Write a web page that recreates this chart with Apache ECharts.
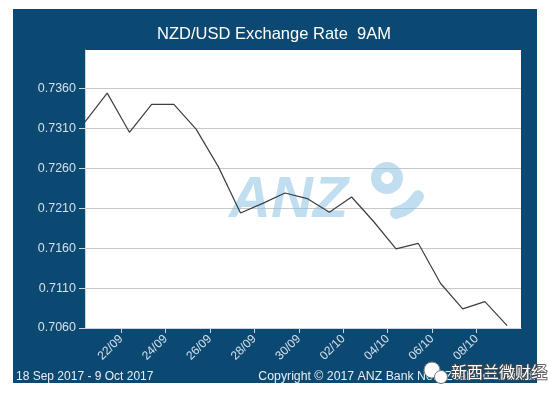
<!DOCTYPE html>
<html>
<head>
<meta charset="utf-8">
<script src="https://cdn.jsdelivr.net/npm/echarts@6/dist/echarts.min.js"></script>
<style>html,body{margin:0;padding:0;background:#fff;}#c{width:548px;height:397px;}</style>
</head>
<body>
<div id="c"></div>
<script>
// Daily 9AM fixings
var dates = ['2017-09-20','2017-09-21','2017-09-22','2017-09-23','2017-09-24','2017-09-25','2017-09-26',
  '2017-09-27','2017-09-28','2017-09-29','2017-09-30','2017-10-01','2017-10-02','2017-10-03',
  '2017-10-04','2017-10-05','2017-10-06','2017-10-07','2017-10-08','2017-10-09'];
var rates = [0.7318,0.7354,0.7305,0.7340,0.7340,0.7309,0.7262,
  0.7204,0.7216,0.7229,0.7222,0.7205,0.7224,0.7193,
  0.7159,0.7166,0.7116,0.7084,0.7093,0.7063];
var xTickDates = ['2017-09-22','2017-09-24','2017-09-26','2017-09-28','2017-09-30',
  '2017-10-02','2017-10-04','2017-10-06','2017-10-08'];
var yTicks = [0.7060,0.7110,0.7160,0.7210,0.7260,0.7310,0.7360];
var axisStart = '2017-09-20';
var axisEnd = '2017-10-10';
var fixHour = 9;

var DAY = 86400000;
function ts(s){ var p = s.split('-'); return Date.UTC(+p[0], +p[1]-1, +p[2]); }
function dayNum(s){ return (ts(s) - ts(axisStart)) / DAY; }
function pad(n){ return (n < 10 ? '0' : '') + n; }
var seriesData = dates.map(function(d, i){ return [dayNum(d) + fixHour/24, rates[i]]; });
var xTickVals = xTickDates.map(dayNum);

var chart = echarts.init(document.getElementById('c'), null, {renderer:'canvas'});
var font = 'Liberation Sans, Arial, sans-serif';
var wm = 'rgba(140,195,228,0.55)';
chart.setOption({
  backgroundColor: '#ffffff',
  animation: false,
  title: {
    text: 'NZD/USD Exchange Rate  9AM',
    left: 'center', top: 21,
    textStyle: {color:'#ffffff', fontSize: 16.5, fontWeight:'normal', fontFamily: font}
  },
  grid: {left: 85, right: 27, top: 50, bottom: 69, show: true, backgroundColor:'#ffffff', borderWidth: 0},
  xAxis: {
    type: 'value',
    min: fixHour/24,
    max: dayNum(axisEnd),
    axisLine: {show: true, onZero: false, lineStyle: {color:'#c9d6e0', width: 1}},
    axisTick: {show: true, length: 5, customValues: xTickVals, lineStyle: {color:'#c9d6e0'}},
    splitLine: {show: false},
    axisLabel: {
      customValues: xTickVals,
      rotate: 45, margin: 9,
      color: '#d3e0ea', fontSize: 12, fontFamily: font,
      formatter: function(v){ var d = new Date(ts(axisStart) + Math.round(v)*DAY); return pad(d.getUTCDate()) + '/' + pad(d.getUTCMonth()+1); }
    }
  },
  yAxis: {
    type: 'value',
    min: 0.7060, max: 0.7408, interval: 0.005,
    axisLine: {show: true, lineStyle: {color:'#c9d6e0', width: 1}},
    axisTick: {show: true, length: 6, customValues: yTicks, lineStyle: {color:'#c9d6e0'}},
    splitLine: {show: true, lineStyle: {color:'#c8c8c8', width: 1}},
    axisLabel: {
      customValues: yTicks,
      margin: 9, color: '#d3e0ea', fontSize: 12.5, fontFamily: font,
      formatter: function(v){ return v.toFixed(4); }
    }
  },
  series: [{
    type: 'line', data: seriesData, symbol: 'none', z: 5,
    lineStyle: {color:'#3b3f44', width: 1.2}
  }],
  graphic: [
    {type:'rect', z:-10, silent:true, shape:{x:13, y:9, width:524, height:374}, style:{fill:'#0b4872'}},
    {type:'text', z:1, silent:true, x:229, y:201, style:{text:'ANZ', font:'italic bold 58px Liberation Sans', fill:wm, verticalAlign:'middle'}},
    {type:'circle', z:1, silent:true, shape:{cx:387, cy:178, r:11}, style:{fill:'none', stroke:wm, lineWidth:10}},
    {type:'arc', z:1, silent:true, shape:{cx:387, cy:178, r:36, startAngle: Math.PI*0.17, endAngle: Math.PI*0.42}, style:{fill:'none', stroke:wm, lineWidth:12, lineCap:'round'}},
    {type:'text', z:3, silent:true, x:16, y:377, style:{text:'18 Sep 2017 - 9 Oct 2017', font:'12px Liberation Sans', fill:'#e8eef3', verticalAlign:'middle'}},
    {type:'text', z:3, silent:true, x:536, y:377, style:{text:'Copyright \u00a9 2017 ANZ Bank New Zealand Limited.', font:'12.3px Liberation Sans', fill:'#e8eef3', align:'right', verticalAlign:'middle'}},
    {type:'circle', z:6, silent:true, shape:{cx:432, cy:370, r:8}, style:{fill:'#ffffff', stroke:'#777', lineWidth:1}},
    {type:'circle', z:6, silent:true, shape:{cx:441, cy:377, r:6.5}, style:{fill:'#ffffff', stroke:'#777', lineWidth:1}},
    {type:'text', z:6, silent:true, x:451, y:372, style:{text:'新西兰微财经', font:'16px Noto Sans CJK SC', fill:'#ffffff', stroke:'rgba(70,70,70,0.85)', lineWidth:2, verticalAlign:'middle'}}
  ]
});
</script>
</body>
</html>
